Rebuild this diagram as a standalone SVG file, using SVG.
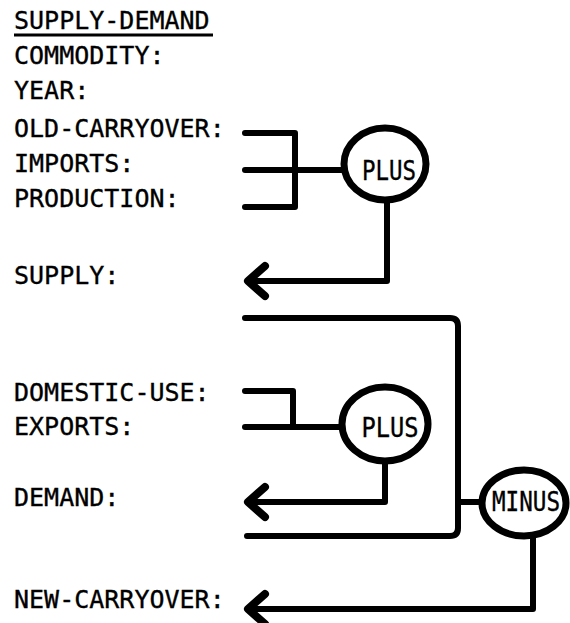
<svg xmlns="http://www.w3.org/2000/svg" width="570" height="623" viewBox="0 0 570 623">
<defs>
<style>
.t{font-family:"DejaVu Sans Mono","Liberation Mono",monospace;font-size:25px;fill:#000;stroke:#000;stroke-width:0.35}
.op{font-family:"DejaVu Sans Mono","Liberation Mono",monospace;font-size:26px;fill:#000;stroke:#000;stroke-width:0.35}
.ln{fill:none;stroke:#000;stroke-width:6;stroke-linecap:round;stroke-linejoin:round}
.el{fill:#fff;stroke:#000;stroke-width:7}
</style>
<marker id="arr" markerUnits="userSpaceOnUse" markerWidth="40" markerHeight="40" viewBox="-25 -20 40 40" refX="0" refY="0" orient="auto" overflow="visible">
<path d="M-17,-15 L0,0 L-17,15" fill="none" stroke="#000" stroke-width="8" stroke-linecap="round" stroke-linejoin="round"/>
</marker>
</defs>
<rect width="570" height="623" fill="#fff"/>
<g id="labels">
<text class="t" x="14" y="29">SUPPLY-DEMAND</text>
<line x1="14" y1="35" x2="213" y2="35" stroke="#000" stroke-width="3"/>
<text class="t" x="14" y="64">COMMODITY:</text>
<text class="t" x="14" y="99">YEAR:</text>
<text class="t" x="14" y="137">OLD-CARRYOVER:</text>
<text class="t" x="14" y="172">IMPORTS:</text>
<text class="t" x="14" y="207">PRODUCTION:</text>
<text class="t" x="14" y="284">SUPPLY:</text>
<text class="t" x="14" y="401">DOMESTIC-USE:</text>
<text class="t" x="14" y="435">EXPORTS:</text>
<text class="t" x="14" y="506">DEMAND:</text>
<text class="t" x="14" y="608">NEW-CARRYOVER:</text>
</g>
<g id="connectors">
<path class="ln" d="M245,133 H295 V207 H245"/>
<path class="ln" d="M245,170 H345"/>
<path class="ln" d="M387,201 V281 H248" marker-end="url(#arr)"/>
<path class="ln" d="M245,391 H293 V427"/>
<path class="ln" d="M245,427 H343"/>
<path class="ln" d="M385,461 V502 H248" marker-end="url(#arr)"/>
<path class="ln" d="M245,318 H450 Q458,318 458,326 V528 Q458,536 450,536 H247"/>
<path class="ln" d="M458,502 H482"/>
<path class="ln" d="M533,536 V609 H248" marker-end="url(#arr)"/>
</g>
<g id="plus1">
<ellipse class="el" cx="385" cy="164" rx="41" ry="36"/>
<text class="op" x="389" y="180" text-anchor="middle" textLength="54" lengthAdjust="spacingAndGlyphs">PLUS</text>
</g>
<g id="plus2">
<ellipse class="el" cx="385" cy="424" rx="43" ry="37"/>
<text class="op" x="390" y="437" text-anchor="middle" textLength="57" lengthAdjust="spacingAndGlyphs">PLUS</text>
</g>
<g id="minus">
<ellipse class="el" cx="524" cy="503" rx="42" ry="33"/>
<text class="op" x="526" y="511" text-anchor="middle" textLength="68" lengthAdjust="spacingAndGlyphs">MINUS</text>
</g>
</svg>
